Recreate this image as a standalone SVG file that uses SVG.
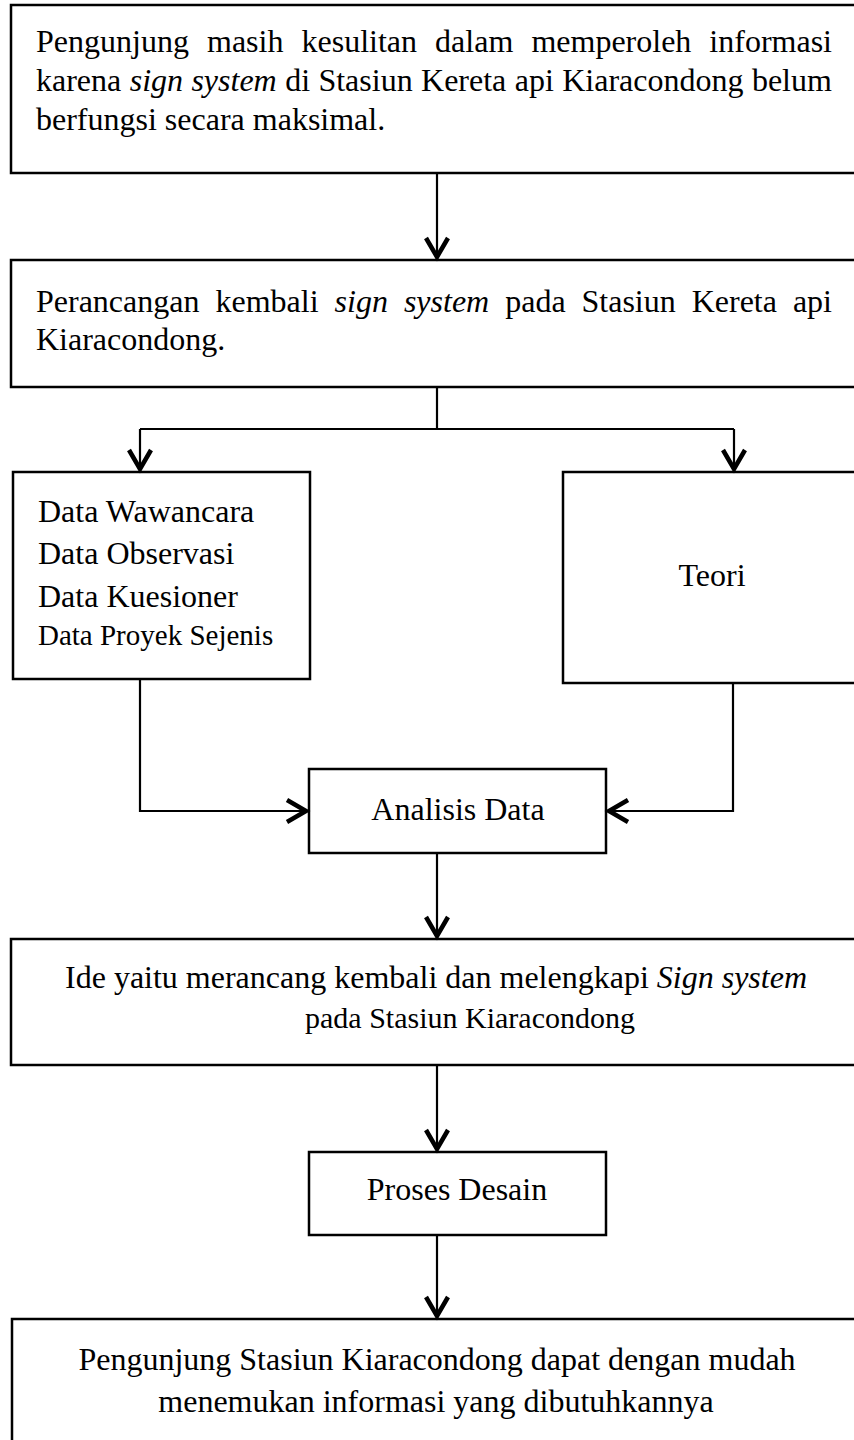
<svg xmlns="http://www.w3.org/2000/svg" width="854" height="1440" viewBox="0 0 854 1440">
<style>
  .box { fill: #fff; stroke: #000; stroke-width: 2.5; }
  .t { font-family: "Liberation Serif", "Times New Roman", serif; font-size: 32px; fill: #000; }
  .i { font-style: italic; }
  .c { text-anchor: middle; }
  .ln { fill: none; stroke: #000; stroke-width: 2.2; }
</style>
<defs>
  <marker id="ah" markerUnits="userSpaceOnUse" markerWidth="40" markerHeight="40" refX="0" refY="0" orient="auto" overflow="visible" viewBox="-30 -20 40 40">
    <path d="M-21,-11 L-2,0 L-21,11" fill="none" stroke="#000" stroke-width="4.5" stroke-linejoin="miter" stroke-linecap="butt"/>
  </marker>
</defs>
<rect width="854" height="1440" fill="#fff"/>

<g id="n1">
  <rect class="box" x="11" y="5" width="870" height="168"/>
  <text class="t" y="52"><tspan x="36">Pengunjung</tspan><tspan x="207">masih</tspan><tspan x="301.5">kesulitan</tspan><tspan x="435.1">dalam</tspan><tspan x="531.4">memperoleh</tspan><tspan x="832" text-anchor="end">informasi</tspan></text>
  <text class="t" y="91" x="36" word-spacing="0.4">karena <tspan class="i">sign system</tspan> di Stasiun Kereta api Kiaracondong belum</text>
  <text class="t" x="36" y="130">berfungsi secara maksimal.</text>
</g>

<g id="n2">
  <rect class="box" x="11" y="260" width="870" height="127"/>
  <text class="t" y="312"><tspan x="36">Perancangan</tspan><tspan x="215.5">kembali</tspan><tspan class="i" x="334.6">sign</tspan><tspan class="i" x="403.9">system</tspan><tspan x="505.2">pada</tspan><tspan x="581.5">Stasiun</tspan><tspan x="691.7">Kereta</tspan><tspan x="832" text-anchor="end">api</tspan></text>
  <text class="t" x="36" y="350">Kiaracondong.</text>
</g>

<g id="n3">
  <rect class="box" x="13" y="472" width="297" height="207"/>
  <text class="t" x="38" y="522">Data Wawancara</text>
  <text class="t" x="38" y="564">Data Observasi</text>
  <text class="t" x="38" y="607">Data Kuesioner</text>
  <text class="t" x="38" y="645" style="font-size:29px">Data Proyek Sejenis</text>
</g>

<g id="n4">
  <rect class="box" x="563" y="472" width="320" height="211"/>
  <text class="t c" x="712" y="586">Teori</text>
</g>

<g id="n5">
  <rect class="box" x="309" y="769" width="297" height="84"/>
  <text class="t c" x="458" y="820">Analisis Data</text>
</g>

<g id="n6">
  <rect class="box" x="11" y="939" width="870" height="126"/>
  <text class="t c" x="436" y="988">Ide yaitu merancang kembali dan melengkapi <tspan class="i">Sign system</tspan></text>
  <text class="t c" x="470" y="1028" style="font-size:30px">pada Stasiun Kiaracondong</text>
</g>

<g id="n7">
  <rect class="box" x="309" y="1152" width="297" height="83"/>
  <text class="t c" x="457" y="1200">Proses Desain</text>
</g>

<g id="n8">
  <rect class="box" x="12" y="1319" width="870" height="200"/>
  <text class="t c" x="437" y="1370">Pengunjung Stasiun Kiaracondong dapat dengan mudah</text>
  <text class="t c" x="436" y="1412">menemukan informasi yang dibutuhkannya</text>
</g>

<g id="connectors">
  <line class="ln" x1="437" y1="173" x2="437" y2="259" marker-end="url(#ah)"/>
  <polyline class="ln" points="437,387 437,429"/>
  <polyline class="ln" points="140,429 734,429"/>
  <line class="ln" x1="140" y1="429" x2="140" y2="471" marker-end="url(#ah)"/>
  <line class="ln" x1="734" y1="429" x2="734" y2="471" marker-end="url(#ah)"/>
  <polyline class="ln" points="140,679 140,811 308,811" marker-end="url(#ah)"/>
  <polyline class="ln" points="733,683 733,811 607,811" marker-end="url(#ah)"/>
  <line class="ln" x1="437" y1="853" x2="437" y2="938" marker-end="url(#ah)"/>
  <line class="ln" x1="437" y1="1065" x2="437" y2="1151" marker-end="url(#ah)"/>
  <line class="ln" x1="437" y1="1235" x2="437" y2="1318" marker-end="url(#ah)"/>
</g>
</svg>
